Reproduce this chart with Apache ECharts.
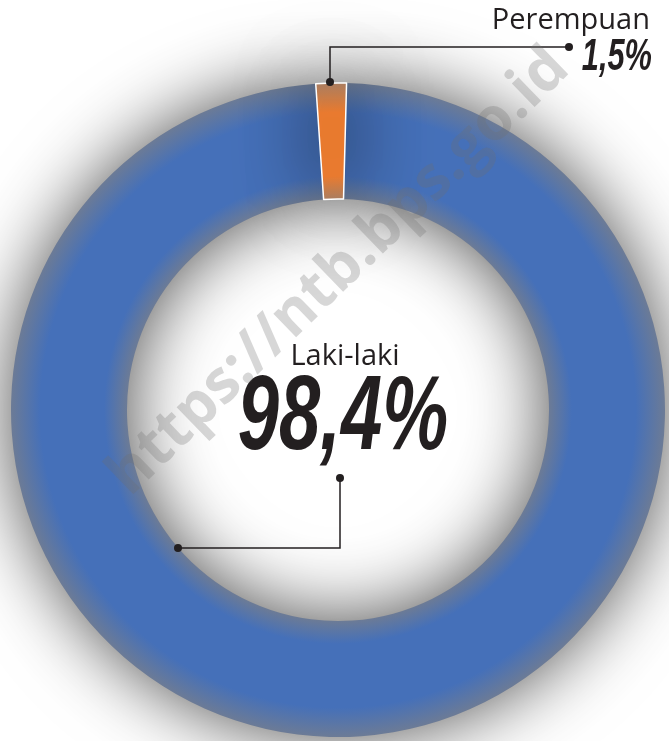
<!DOCTYPE html>
<html>
<head>
<meta charset="utf-8">
<script src="https://cdn.jsdelivr.net/npm/echarts@6/dist/echarts.min.js"></script>
<style>
  html, body { margin: 0; padding: 0; background: #fff; }
  #chart { width: 669px; height: 741px; }
</style>
</head>
<body>
<div id="chart"></div>
<script>
// data
const categories = ["Laki-laki", "Perempuan"];
const shares = [98.4, 1.5];
const watermark = "https://ntb.bps.go.id";

// ring geometry (pixels)
const cx = 338, cy = 410, rIn = 211, rOut = 327;

const fmt = v => v.toFixed(1).replace(".", ",") + "%";

// radial shading: greyish at both edges of the ring
function ringFill(edge, mid) {
  const f = rIn / rOut;
  return {
    type: "radial", x: cx, y: cy, r: rOut, global: true,
    colorStops: [
      { offset: 0, color: edge },
      { offset: f, color: edge },
      { offset: f + 0.07, color: mid },
      { offset: 0.91, color: mid },
      { offset: 1, color: edge },
    ],
  };
}
const fills = [ringFill("#6c7b96", "#4570b9"), ringFill("#ad7f62", "#ee7d30")];

const chart = echarts.init(document.getElementById("chart"));
chart.setOption({
  animation: false,
  backgroundColor: "#fff",
  series: [{
    type: "pie",
    center: [cx, cy],
    radius: [rIn, rOut],
    startAngle: 88.5,
    clockwise: true,
    silent: true,
    label: { show: false },
    labelLine: { show: false },
    itemStyle: { shadowBlur: 75, shadowColor: "rgba(0,0,0,0.7)" },
    data: categories.map((c, i) => ({
      name: c,
      value: shares[i],
      itemStyle: {
        color: fills[i],
        borderColor: i === 1 ? "#fff" : "transparent",
        borderWidth: i === 1 ? 1.5 : 0,
      },
    })),
  }],
  graphic: [
    // watermark
    {
      type: "text", x: 339, y: 272, rotation: 44 * Math.PI / 180, z: 100,
      style: {
        text: watermark, fill: "rgba(110,110,110,0.28)",
        font: "bold 60px 'Open Sans', sans-serif",
        align: "center", verticalAlign: "middle",
      },
    },
    // Laki-laki label
    {
      type: "text", x: 345, y: 357, z: 50,
      style: { text: categories[0], fill: "#231f20", font: "29px 'Open Sans', sans-serif", align: "center", verticalAlign: "middle" },
    },
    {
      type: "text", x: 343, y: 420, z: 50, scaleX: 0.7,
      style: { text: fmt(shares[0]), fill: "#231f20", font: "italic bold 106px 'Liberation Sans Narrow', sans-serif", align: "center", verticalAlign: "middle" },
    },
    {
      type: "polyline", z: 50,
      shape: { points: [[340, 478], [340, 548], [178, 548]] },
      style: { stroke: "#231f20", lineWidth: 1.5, fill: null },
    },
    { type: "circle", z: 50, shape: { cx: 340, cy: 478, r: 4 }, style: { fill: "#231f20" } },
    { type: "circle", z: 50, shape: { cx: 178, cy: 548, r: 4 }, style: { fill: "#231f20" } },
    // Perempuan label
    {
      type: "text", x: 650, y: 21, z: 50,
      style: { text: categories[1], fill: "#231f20", font: "29px 'Open Sans', sans-serif", align: "right", verticalAlign: "middle" },
    },
    {
      type: "text", x: 652, y: 58, z: 50, scaleX: 0.7,
      style: { text: fmt(shares[1]), fill: "#231f20", font: "italic bold 44px 'Liberation Sans Narrow', sans-serif", align: "right", verticalAlign: "middle" },
    },
    {
      type: "polyline", z: 50,
      shape: { points: [[330, 82], [330, 47], [569, 47]] },
      style: { stroke: "#231f20", lineWidth: 1.5, fill: null },
    },
    { type: "circle", z: 50, shape: { cx: 330, cy: 82, r: 4 }, style: { fill: "#231f20" } },
    { type: "circle", z: 50, shape: { cx: 569, cy: 47, r: 4 }, style: { fill: "#231f20" } },
  ],
});
</script>
</body>
</html>
